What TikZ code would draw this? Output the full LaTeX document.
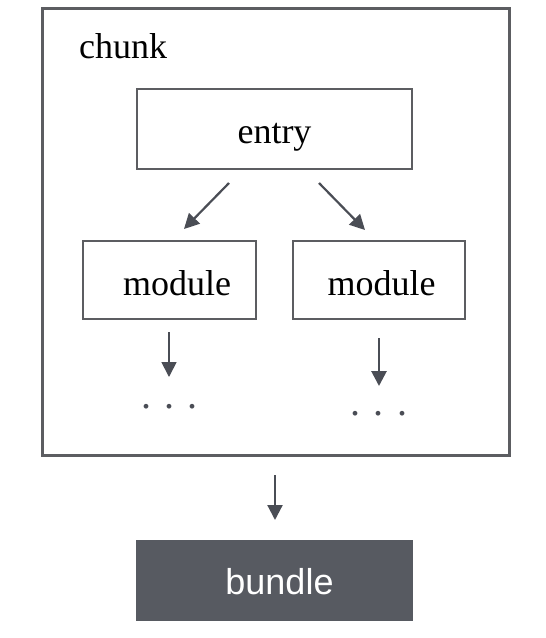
\documentclass[tikz,border=0pt]{standalone}
\usepackage{fontspec}
\setmainfont{Liberation Serif}
\newfontfamily\bundlefont{Liberation Sans}
\usetikzlibrary{arrows.meta}
\definecolor{linegray}{HTML}{5C5D61}
\definecolor{arrowgray}{HTML}{4A4D55}
\definecolor{bundlefill}{HTML}{575A61}
\tikzset{
  boxstyle/.style={draw=linegray, line width=2.5pt, inner sep=0pt, fill=white},
  lbl/.style={font=\fontsize{36}{40}\selectfont, inner sep=0pt, anchor=base},
  arr/.style={draw=arrowgray, line width=2.2pt, -{Triangle[length=15pt,width=15pt]}},
  dotsstyle/.style={font=\fontsize{40}{40}\selectfont, inner sep=0pt, anchor=base, text=arrowgray},
}
\begin{document}
\begin{tikzpicture}[x=1pt,y=-1pt]
\useasboundingbox (0,0) rectangle (546,638);
\fill[white] (0,0) rectangle (546,638);
% outer chunk box
\node[boxstyle, line width=3pt, minimum width=467pt, minimum height=447pt] (chunk) at (275.5,231.5) {};
\node[lbl, anchor=base west] (chunkt) at (79,58) {chunk};
% entry
\node[boxstyle, minimum width=275pt, minimum height=80pt] (entry) at (274.5,129) {};
\node[lbl] (entryt) at (274.5,143) {entry};
% modules
\node[boxstyle, minimum width=173pt, minimum height=78pt] (mod1) at (169.5,280) {};
\node[lbl] (mod1t) at (177,295) {module};
\node[boxstyle, minimum width=172pt, minimum height=78pt] (mod2) at (379,280) {};
\node[lbl] (mod2t) at (381.5,295) {module};
% dots
\node[dotsstyle] (dots1) at (169.5,408) {.\,\,.\,\,.};
\node[dotsstyle] (dots2) at (379,415) {.\,\,.\,\,.};
% bundle
\node[draw=none, fill=bundlefill, inner sep=0pt, minimum width=277pt, minimum height=81pt] (bundle) at (274.5,580.5) {};
\node[lbl, text=white, font=\bundlefont\fontsize{36}{40}\selectfont] (bundlet) at (279.5,594) {bundle};
% arrow coordinates
\coordinate (a1s) at (229,183);
\coordinate (a1e) at (184,229);
\coordinate (a2s) at (319,183);
\coordinate (a2e) at (365,230);
\coordinate (a3s) at (169,332);
\coordinate (a3e) at (169,377);
\coordinate (a4s) at (379,338);
\coordinate (a4e) at (379,386);
\coordinate (a5s) at (275,475);
\coordinate (a5e) at (275,520);
\draw[arr] (a1s) -- (a1e);
\draw[arr] (a2s) -- (a2e);
\draw[arr, line width=1.8pt] (a3s) -- (a3e);
\draw[arr, line width=2.8pt] (a4s) -- (a4e);
\draw[arr] (a5s) -- (a5e);
\end{tikzpicture}
\end{document}
